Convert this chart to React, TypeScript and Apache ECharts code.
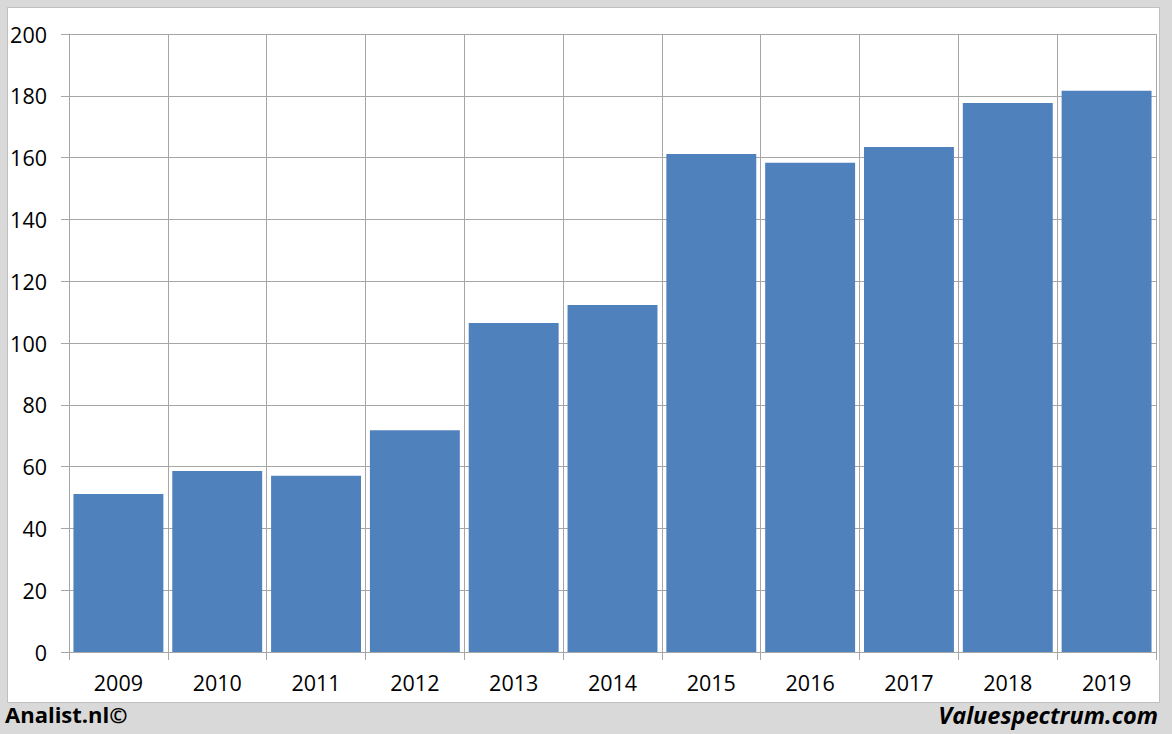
import React, { useEffect, useRef } from "react";
import * as echarts from "echarts";

const categories = ["2009", "2010", "2011", "2012", "2013", "2014", "2015", "2016", "2017", "2018", "2019"];
const values = [51.1, 58.6, 57.0, 71.8, 106.5, 112.3, 161.2, 158.3, 163.4, 177.7, 181.6];
const leftFooter = "Analist.nl©";
const rightFooter = "Valuespectrum.com";

export default function App() {
  const ref = useRef<HTMLDivElement>(null);
  useEffect(() => {
    if (!ref.current) return;
    const chart = echarts.init(ref.current, undefined, { renderer: "svg" });
    const font = "'Open Sans', 'Liberation Sans', sans-serif";
    chart.setOption({
      animation: false,
      backgroundColor: "#D9D9D9",
      graphic: [
        {
          type: "rect",
          shape: { x: 7.5, y: 7.5, width: 1152, height: 695 },
          style: { fill: "#FFFFFF", stroke: "#BFBFBF", lineWidth: 1 },
          z: -10,
        },
        {
          type: "text",
          left: 5,
          top: 703,
          style: { text: leftFooter, font: "bold 22px " + font, fill: "#000" },
        },
        {
          type: "text",
          right: 14,
          top: 703,
          style: { text: rightFooter, font: "italic bold 23.5px " + font, fill: "#000" },
        },
      ],
      grid: { left: 69, top: 34, width: 1087, height: 618, containLabel: false },
      xAxis: {
        type: "category",
        data: categories,
        boundaryGap: true,
        axisLine: { lineStyle: { color: "#A6A6A6", width: 1 } },
        axisTick: { show: true, length: 8, alignWithLabel: false, lineStyle: { color: "#A6A6A6" } },
        axisLabel: { color: "#000", fontSize: 21.5, fontFamily: font, margin: 19 },
        splitLine: { show: true, lineStyle: { color: "#A6A6A6", width: 1 } },
      },
      yAxis: {
        type: "value",
        min: 0,
        max: 200,
        interval: 20,
        axisLine: { show: true, lineStyle: { color: "#A6A6A6", width: 1 } },
        axisTick: { show: true, length: 8, lineStyle: { color: "#A6A6A6" } },
        axisLabel: { color: "#000", fontSize: 21.5, fontFamily: font, margin: 22 },
        splitLine: { show: true, lineStyle: { color: "#A6A6A6", width: 1 } },
      },
      series: [
        {
          type: "bar",
          data: values,
          barCategoryGap: "9%",
          itemStyle: { color: "#4F81BD" },
        },
      ],
    });
    return () => chart.dispose();
  }, []);
  return <div ref={ref} style={{ position: "absolute", left: 0, top: 0, width: 1172, height: 734 }} />;
}
